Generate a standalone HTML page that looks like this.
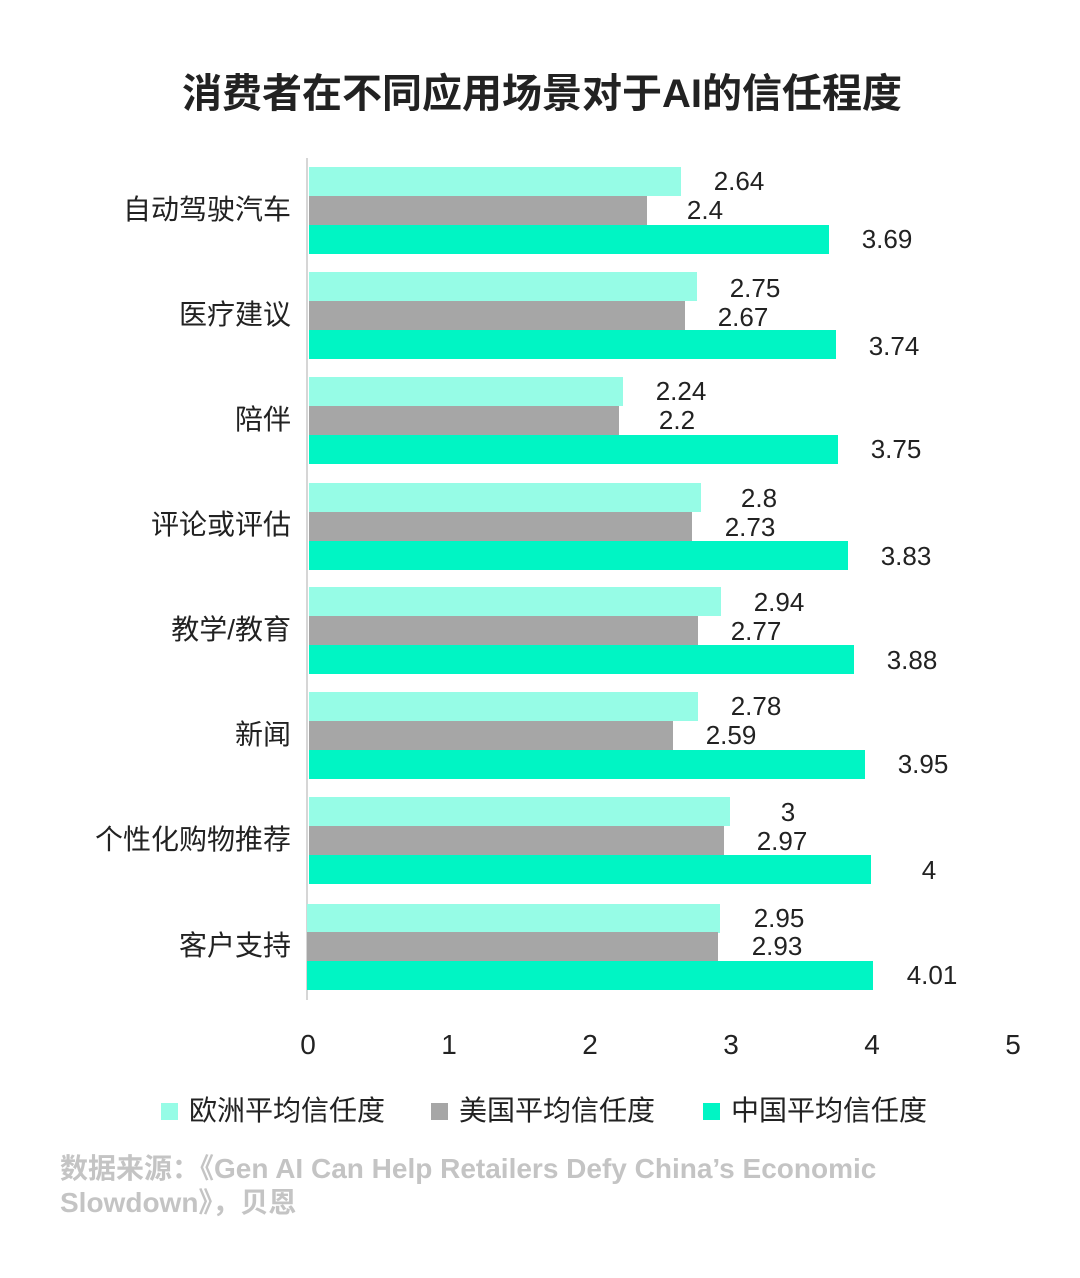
<!DOCTYPE html>
<html><head><meta charset="utf-8"><style>
body{margin:0;width:1080px;height:1278px;background:#fff;position:relative;overflow:hidden;font-family:"Liberation Sans","Noto Sans CJK SC",sans-serif;color:#222}
div{position:absolute}
.b{left:309px;height:29px}
.e{background:#96FCE6}.u{background:#A6A6A6}.c{background:#00F5C4}
.v{width:100px;text-align:center;font-size:26px;line-height:29px;height:29px}
.cat{right:789px;font-size:28px;line-height:40px;white-space:nowrap;text-align:right}
.t{top:1027px;width:60px;text-align:center;font-size:28px;line-height:36px}
.lg{top:1094px;font-size:28px;line-height:34px}
.sq{top:1103px;width:17px;height:17px}
</style></head><body>
<div style="left:0;width:1084px;top:68px;text-align:center;font-size:40px;font-weight:bold;line-height:52px;color:#222">消费者在不同应用场景对于AI的信任程度</div>
<div style="left:306px;top:158px;width:2px;height:842px;background:#d6d6d6"></div>

<div class="cat" style="top:190px">自动驾驶汽车</div>
<div class="b e" style="top:167px;width:372px"></div><div class="v" style="top:167px;left:689px">2.64</div>
<div class="b u" style="top:196px;width:338px"></div><div class="v" style="top:196px;left:655px">2.4</div>
<div class="b c" style="top:225px;width:520px"></div><div class="v" style="top:225px;left:837px">3.69</div>

<div class="cat" style="top:295px">医疗建议</div>
<div class="b e" style="top:272px;width:388px"></div><div class="v" style="top:274px;left:705px">2.75</div>
<div class="b u" style="top:301px;width:376px"></div><div class="v" style="top:303px;left:693px">2.67</div>
<div class="b c" style="top:330px;width:527px"></div><div class="v" style="top:332px;left:844px">3.74</div>

<div class="cat" style="top:400px">陪伴</div>
<div class="b e" style="top:377px;width:314px"></div><div class="v" style="top:377px;left:631px">2.24</div>
<div class="b u" style="top:406px;width:310px"></div><div class="v" style="top:406px;left:627px">2.2</div>
<div class="b c" style="top:435px;width:529px"></div><div class="v" style="top:435px;left:846px">3.75</div>

<div class="cat" style="top:505px">评论或评估</div>
<div class="b e" style="top:483px;width:392px"></div><div class="v" style="top:484px;left:709px">2.8</div>
<div class="b u" style="top:512px;width:383px"></div><div class="v" style="top:513px;left:700px">2.73</div>
<div class="b c" style="top:541px;width:539px"></div><div class="v" style="top:542px;left:856px">3.83</div>

<div class="cat" style="top:610px">教学/教育</div>
<div class="b e" style="top:587px;width:412px"></div><div class="v" style="top:588px;left:729px">2.94</div>
<div class="b u" style="top:616px;width:389px"></div><div class="v" style="top:617px;left:706px">2.77</div>
<div class="b c" style="top:645px;width:545px"></div><div class="v" style="top:646px;left:862px">3.88</div>

<div class="cat" style="top:715px">新闻</div>
<div class="b e" style="top:692px;width:389px"></div><div class="v" style="top:692px;left:706px">2.78</div>
<div class="b u" style="top:721px;width:364px"></div><div class="v" style="top:721px;left:681px">2.59</div>
<div class="b c" style="top:750px;width:556px"></div><div class="v" style="top:750px;left:873px">3.95</div>

<div class="cat" style="top:820px">个性化购物推荐</div>
<div class="b e" style="top:797px;width:421px"></div><div class="v" style="top:798px;left:738px">3</div>
<div class="b u" style="top:826px;width:415px"></div><div class="v" style="top:827px;left:732px">2.97</div>
<div class="b c" style="top:855px;width:562px"></div><div class="v" style="top:856px;left:879px">4</div>

<div class="cat" style="top:926px">客户支持</div>
<div class="b e" style="top:904px;width:413px;left:307px"></div><div class="v" style="top:904px;left:729px">2.95</div>
<div class="b u" style="top:932px;width:411px;left:307px"></div><div class="v" style="top:932px;left:727px">2.93</div>
<div class="b c" style="top:961px;width:566px;left:307px"></div><div class="v" style="top:961px;left:882px">4.01</div>

<div class="t" style="left:278px">0</div>
<div class="t" style="left:419px">1</div>
<div class="t" style="left:560px">2</div>
<div class="t" style="left:701px">3</div>
<div class="t" style="left:842px">4</div>
<div class="t" style="left:983px">5</div>

<div class="sq" style="left:161px;background:#96FCE6"></div><div class="lg" style="left:189px">欧洲平均信任度</div>
<div class="sq" style="left:431px;background:#A6A6A6"></div><div class="lg" style="left:459px">美国平均信任度</div>
<div class="sq" style="left:703px;background:#00F5C4"></div><div class="lg" style="left:731px">中国平均信任度</div>

<div style="left:60px;top:1152px;font-size:28px;font-weight:bold;line-height:34px;color:#c4c4c4;width:960px">数据来源：《Gen AI Can Help Retailers Defy China’s Economic<br>Slowdown》，贝恩</div>
</body></html>
